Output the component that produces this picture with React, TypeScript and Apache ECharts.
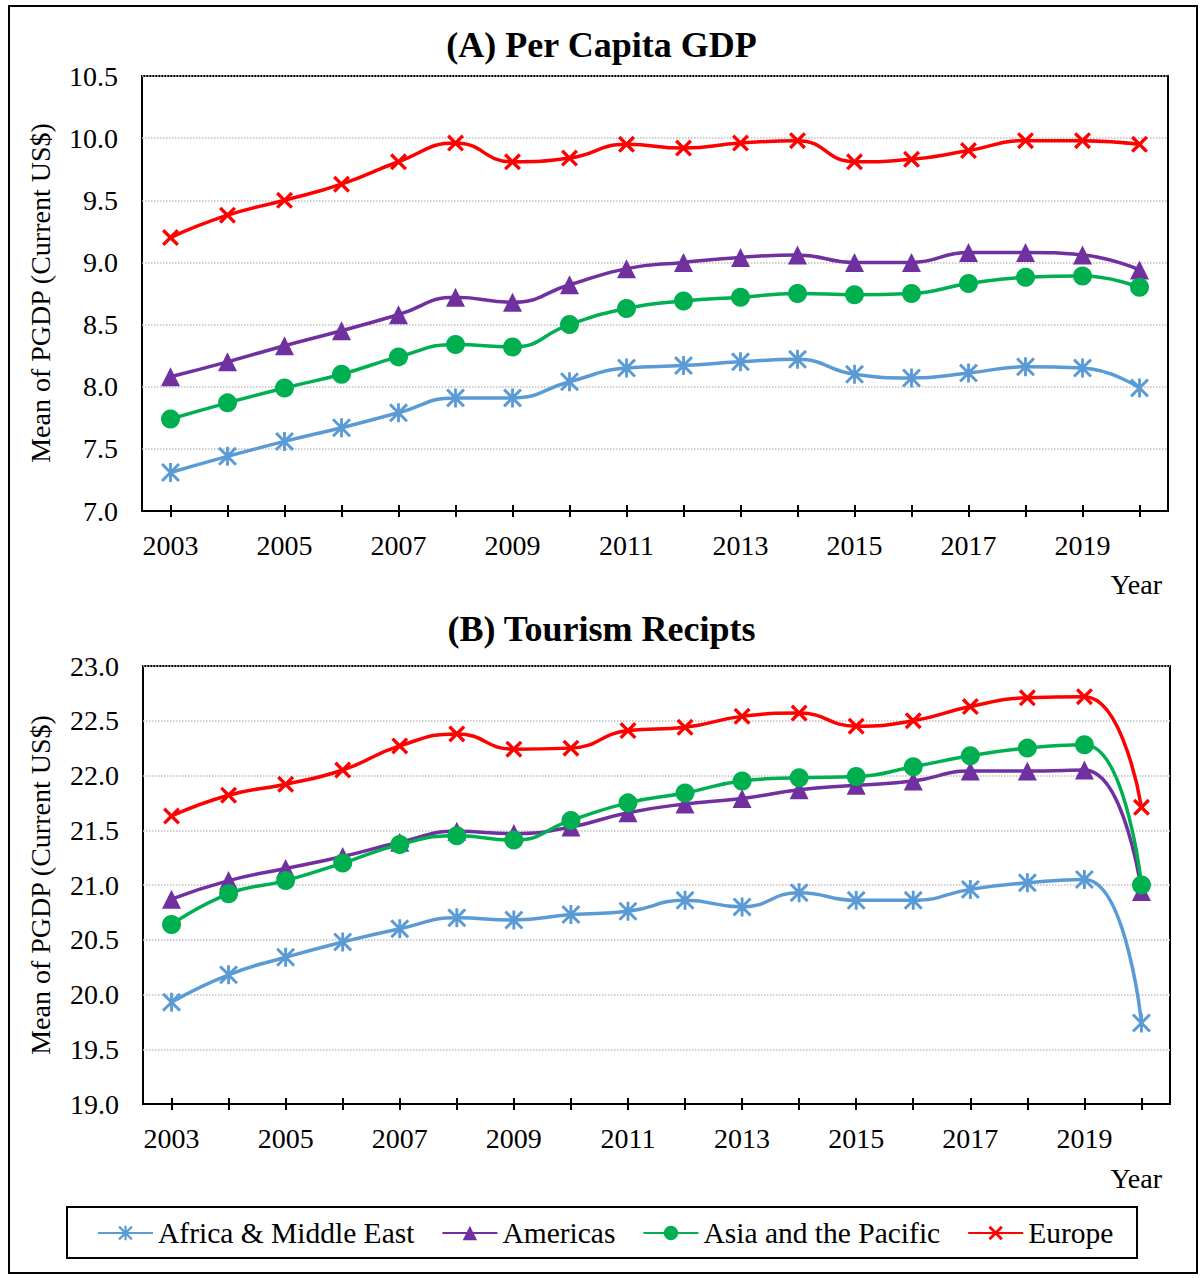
import React, { useEffect, useRef } from 'react';
import * as echarts from 'echarts';

const years = ['2003', '2004', '2005', '2006', '2007', '2008', '2009', '2010', '2011', '2012', '2013', '2014', '2015', '2016', '2017', '2018', '2019', '2020'];
const seriesNames = ['Africa & Middle East', 'Americas', 'Asia and the Pacific', 'Europe'];

// (A) Per Capita GDP
const gdpAfrica = [7.31, 7.44, 7.56, 7.67, 7.79, 7.91, 7.91, 8.04, 8.15, 8.17, 8.2, 8.22, 8.1, 8.07, 8.11, 8.16, 8.15, 7.99];
const gdpAmericas = [8.08, 8.2, 8.33, 8.45, 8.58, 8.72, 8.68, 8.82, 8.95, 9.0, 9.04, 9.06, 9.0, 9.0, 9.08, 9.08, 9.06, 8.94];
const gdpAsia = [7.74, 7.87, 7.99, 8.1, 8.24, 8.34, 8.32, 8.5, 8.63, 8.69, 8.72, 8.75, 8.74, 8.75, 8.83, 8.88, 8.89, 8.8];
const gdpEurope = [9.2, 9.38, 9.5, 9.63, 9.81, 9.96, 9.81, 9.84, 9.95, 9.92, 9.96, 9.98, 9.81, 9.83, 9.9, 9.98, 9.98, 9.95];

// (B) Tourism Recipts
const trAfrica = [19.93, 20.18, 20.34, 20.48, 20.6, 20.7, 20.68, 20.73, 20.76, 20.86, 20.8, 20.93, 20.86, 20.86, 20.96, 21.02, 21.05, 19.74];
const trAmericas = [20.87, 21.04, 21.15, 21.26, 21.39, 21.49, 21.47, 21.53, 21.66, 21.74, 21.79, 21.87, 21.91, 21.95, 22.04, 22.04, 22.05, 20.94];
const trAsia = [20.64, 20.92, 21.04, 21.2, 21.37, 21.45, 21.41, 21.59, 21.75, 21.84, 21.95, 21.98, 21.99, 22.08, 22.18, 22.25, 22.28, 21.0];
const trEurope = [21.63, 21.82, 21.92, 22.05, 22.27, 22.38, 22.24, 22.25, 22.41, 22.44, 22.54, 22.57, 22.45, 22.5, 22.63, 22.71, 22.72, 21.71];

const colors = ['#5B9BD5', '#7030A0', '#00B050', '#FF0000'];
const FONT = 'Liberation Serif';

const xSymbol = 'path://M1.4,0 L5,3.6 L8.6,0 L10,1.4 L6.4,5 L10,8.6 L8.6,10 L5,6.4 L1.4,10 L0,8.6 L3.6,5 L0,1.4 Z';
const starSymbol =
  'path://M1.1,0 L5,3.9 L8.9,0 L10,1.1 L6.1,5 L10,8.9 L8.9,10 L5,6.1 L1.1,10 L0,8.9 L3.9,5 L0,1.1 Z M4.25,0 L5.75,0 L5.75,10 L4.25,10 Z';
const symbols = [starSymbol, 'triangle', 'circle', xSymbol];
const symbolSizes = [19, 19, 19, 17];

function buildAxes(gridIndex: number, min: number, max: number) {
  const xMain = {
    type: 'category',
    gridIndex,
    data: years,
    boundaryGap: true,
    axisLine: { show: true, lineStyle: { color: '#000', width: 2 } },
    axisTick: { show: true, alignWithLabel: true, interval: 0, length: 6, lineStyle: { color: '#000', width: 2 } },
    axisLabel: { interval: 1, margin: 20, fontSize: 28, fontFamily: FONT, color: '#000' },
    splitLine: { show: false },
  };
  const xInner = {
    type: 'category',
    gridIndex,
    data: years,
    boundaryGap: true,
    position: 'bottom',
    axisLine: { show: false },
    axisTick: { show: true, inside: true, alignWithLabel: true, interval: 0, length: 6, lineStyle: { color: '#000', width: 2 } },
    axisLabel: { show: false },
    splitLine: { show: false },
  };
  const y = {
    type: 'value',
    gridIndex,
    min,
    max,
    interval: 0.5,
    axisLine: { show: false },
    axisTick: { show: false },
    axisLabel: { margin: 24, fontSize: 28, fontFamily: FONT, color: '#000', formatter: (v: number) => v.toFixed(1) },
    splitLine: { show: true, lineStyle: { type: 'dotted', color: '#BFBFBF', width: 1.5 } },
  };
  return { xMain, xInner, y };
}

function buildSeries(data: number[][], xAxisIndex: number, yAxisIndex: number) {
  return data.map((d, i) => ({
    name: seriesNames[i],
    type: 'line',
    xAxisIndex,
    yAxisIndex,
    data: d,
    smooth: 0.5,
    symbol: symbols[i],
    symbolSize: symbolSizes[i],
    showAllSymbol: true,
    lineStyle: { color: colors[i], width: 3.5 },
    itemStyle: { color: colors[i] },
    emphasis: { disabled: true },
    z: 3 + i,
  }));
}

export default function App() {
  const ref = useRef<HTMLDivElement>(null);

  useEffect(() => {
    if (!ref.current) return;
    const chart = echarts.init(ref.current, undefined, { renderer: 'svg' });
    const a = buildAxes(0, 7, 10.5);
    const b = buildAxes(1, 19, 23);
    const option = {
      animation: false,
      backgroundColor: '#fff',
      textStyle: { fontFamily: FONT, color: '#000' },
      title: [
        {
          text: '(A) Per Capita GDP',
          left: 'center',
          top: 27,
          padding: 0,
          textStyle: { fontFamily: FONT, fontSize: 36, fontWeight: 'bold', color: '#000' },
        },
        {
          text: '(B) Tourism Recipts',
          left: 'center',
          top: 611,
          padding: 0,
          textStyle: { fontFamily: FONT, fontSize: 36, fontWeight: 'bold', color: '#000' },
        },
      ],
      grid: [
        { left: 142, top: 76, width: 1026, height: 435, show: true, borderColor: '#000', borderWidth: 2, containLabel: false },
        { left: 143, top: 666, width: 1027, height: 438, show: true, borderColor: '#000', borderWidth: 2, containLabel: false },
      ],
      xAxis: [a.xMain, a.xInner, b.xMain, b.xInner],
      yAxis: [a.y, b.y],
      legend: {
        data: seriesNames,
        left: 97,
        top: 1218,
        padding: 0,
        itemGap: 27,
        itemWidth: 55,
        itemHeight: 18,
        selectedMode: false,
        textStyle: { fontFamily: FONT, fontSize: 29.5, color: '#000', lineHeight: 30 },
      },
      graphic: [
        {
          type: 'rect',
          shape: { x: 9, y: 6, width: 1188, height: 1267 },
          style: { fill: 'none', stroke: '#000', lineWidth: 2 },
          z: 0,
        },
        {
          type: 'rect',
          shape: { x: 67, y: 1207, width: 1070, height: 51 },
          style: { fill: 'none', stroke: '#000', lineWidth: 2 },
          z: 0,
        },
        {
          type: 'text',
          x: 40,
          y: 293,
          rotation: Math.PI / 2,
          style: { text: 'Mean of PGDP (Current US$)', fontFamily: FONT, fontSize: 28, fill: '#000', textAlign: 'center', textVerticalAlign: 'middle' },
        },
        {
          type: 'text',
          x: 40,
          y: 885,
          rotation: Math.PI / 2,
          style: { text: 'Mean of PGDP (Current US$)', fontFamily: FONT, fontSize: 28, fill: '#000', textAlign: 'center', textVerticalAlign: 'middle' },
        },
        {
          type: 'text',
          x: 1162,
          y: 584,
          style: { text: 'Year', fontFamily: FONT, fontSize: 28, fill: '#000', textAlign: 'right', textVerticalAlign: 'middle' },
        },
        {
          type: 'text',
          x: 1162,
          y: 1178,
          style: { text: 'Year', fontFamily: FONT, fontSize: 28, fill: '#000', textAlign: 'right', textVerticalAlign: 'middle' },
        },
      ],
      series: [
        ...buildSeries([gdpAfrica, gdpAmericas, gdpAsia, gdpEurope], 0, 0),
        ...buildSeries([trAfrica, trAmericas, trAsia, trEurope], 2, 1),
      ],
    };
    chart.setOption(option as any);
    return () => {
      chart.dispose();
    };
  }, []);

  return (
    <div
      ref={ref}
      style={{ position: 'absolute', left: 0, top: 0, width: 1203, height: 1278, background: '#fff' }}
    />
  );
}
